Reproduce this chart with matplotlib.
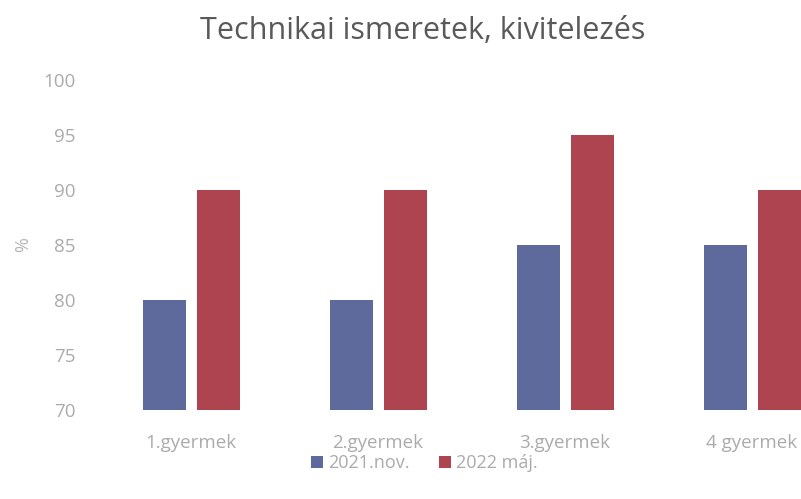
import matplotlib.pyplot as plt
import numpy as np

categories = ['1.gyermek', '2.gyermek', '3.gyermek', '4 gyermek']
nov2021 = [80, 80, 85, 85]
maj2022 = [90, 90, 95, 90]
series_names = ['2021.nov.', '2022 máj.']
yticks = [70, 75, 80, 85, 90, 95, 100]

plt.rcParams['font.family'] = ['Open Sans', 'DejaVu Sans']

fig = plt.figure(figsize=(8.01, 4.99), dpi=100)
ax = fig.add_axes([0.1217, 0.1784, 0.9338, 0.6613])

x = np.arange(len(categories))
w = 0.23
ax.bar(x - 0.142, np.array(nov2021) - 70, w, bottom=70, color='#5f6a9c', label=series_names[0])
ax.bar(x + 0.148, np.array(maj2022) - 70, w, bottom=70, color='#ad4450', label=series_names[1])

ax.set_xlim(-0.5, 3.5)
ax.set_ylim(70, 100)
ax.set_yticks(yticks)
ax.set_xticks(x)
ax.set_xticklabels(categories)
for s in ax.spines.values():
    s.set_visible(False)
ax.tick_params(length=0, colors='#ababab', labelsize=13.5)
ax.tick_params(axis='y', pad=16)
ax.tick_params(axis='x', pad=17)
ax.set_ylabel('%', color='#b5b5b5', fontsize=13, labelpad=8)

fig.text(0.528, 0.937, 'Technikai ismeretek, kivitelezés', ha='center', va='center',
         fontsize=22, color='#595959')

fig.legend(loc='center', bbox_to_anchor=(0.53, 0.072), ncol=2, frameon=False,
           fontsize=13, labelcolor='#ababab', handlelength=0.65, handleheight=0.65,
           handletextpad=0.3, columnspacing=1.6)

fig.savefig('out.png', dpi=100)
